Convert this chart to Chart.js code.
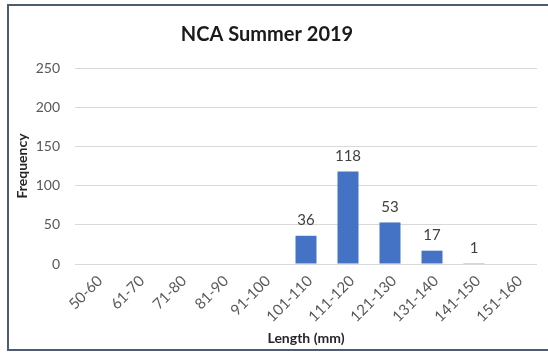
<!DOCTYPE html>
<html>
<head>
<meta charset="utf-8">
<script src="https://cdn.jsdelivr.net/npm/chart.js@4.4.0/dist/chart.umd.min.js"></script>
<style>
  html, body { margin: 0; padding: 0; background: #fff; }
  #wrap { position: absolute; left: 0; top: 0; width: 548px; height: 353px; }
  #frame {
    position: absolute; left: 7px; top: 4px; width: 560px; height: 343px;
    border: 2px solid #4d5c70; border-right: none; pointer-events: none;
  }
</style>
</head>
<body>
<div id="wrap">
  <canvas id="chart" width="548" height="353"></canvas>
  <div id="frame"></div>
</div>
<script>
let chart;

const title = "NCA Summer 2019";
const lengths = ["50-60", "61-70", "71-80", "81-90", "91-100", "101-110", "111-120", "121-130", "131-140", "141-150", "151-160"];
const counts = [null, null, null, null, null, 36, 118, 53, 17, 1, null];
const y_ticks = [0, 50, 100, 150, 200, 250];

const font_name = "Lato, 'Open Sans', sans-serif";
const text_grey = "#595959";

// numbers above each bar, plus the chart title
const bar_labels = {
    id: "bar_labels",
    afterDatasetsDraw(c) {
        let ctx = c.ctx;
        let meta = c.getDatasetMeta(0);
        ctx.save();
        ctx.font = "15px " + font_name;
        ctx.fillStyle = "#404040";
        ctx.textAlign = "center";
        ctx.textBaseline = "bottom";
        meta.data.forEach(function (bar, i) {
            if (counts[i] == null) return;
            ctx.fillText("" + counts[i], bar.x, bar.y - 8);
        });

        ctx.font = "bold 20px " + font_name;
        ctx.fillStyle = "#1a1a1a";
        ctx.textBaseline = "middle";
        ctx.fillText(title, 267, 35);
        ctx.restore();
    }
};

function draw_chart() {
    let box = document.getElementById("chart");

    chart = new Chart(box, {
        type: "bar",
        data: {
            labels: lengths,
            datasets: [{
                label: "Frequency",
                data: counts,
                backgroundColor: "#4472c4",
                categoryPercentage: 1.0,
                barPercentage: 0.5
            }]
        },
        options: {
            responsive: false,
            animation: false,
            layout: { padding: { top: 68, right: 11, left: 0, bottom: 6 } },
            plugins: {
                legend: { display: false },
                tooltip: { enabled: false }
            },
            scales: {
                x: {
                    afterFit: function (axis) {
                        axis.height = 83;
                    },
                    grid: { display: false, drawTicks: false },
                    border: { display: false },
                    ticks: {
                        color: text_grey,
                        font: { family: font_name, size: 15 },
                        maxRotation: 45,
                        minRotation: 45,
                        padding: 8,
                        labelOffset: 4
                    },
                    title: {
                        display: true,
                        text: "Length (mm)",
                        color: "#262626",
                        font: { family: font_name, size: 14, weight: "bold" },
                        padding: { top: 0, bottom: 0 }
                    }
                },
                y: {
                    min: 0,
                    max: 250,
                    afterBuildTicks: function (axis) {
                        axis.ticks = y_ticks.map(function (v) { return { value: v }; });
                    },
                    afterFit: function (axis) {
                        axis.width = 75;
                    },
                    grid: { color: "#d9d9d9", lineWidth: 1, drawTicks: false },
                    border: { display: false },
                    ticks: {
                        color: text_grey,
                        font: { family: font_name, size: 14 },
                        padding: 15
                    },
                    title: {
                        display: true,
                        text: "Frequency",
                        color: "#262626",
                        font: { family: font_name, size: 14, weight: "bold" },
                        padding: { top: 14, bottom: 0 }
                    }
                }
            }
        },
        plugins: [bar_labels]
    });
}

draw_chart();
</script>
</body>
</html>
